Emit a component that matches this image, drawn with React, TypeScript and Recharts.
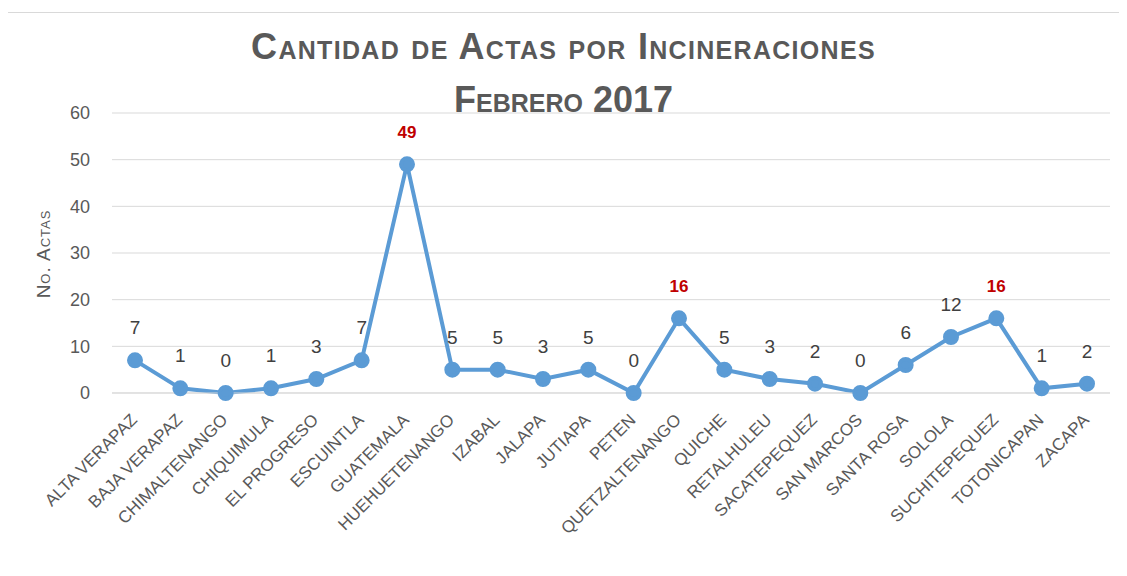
import { LineChart, Line, XAxis, YAxis, CartesianGrid, LabelList } from "recharts"

const departments = [
  "ALTA VERAPAZ", "BAJA VERAPAZ", "CHIMALTENANGO", "CHIQUIMULA", "EL PROGRESO",
  "ESCUINTLA", "GUATEMALA", "HUEHUETENANGO", "IZABAL", "JALAPA", "JUTIAPA",
  "PETEN", "QUETZALTENANGO", "QUICHE", "RETALHULEU", "SACATEPEQUEZ",
  "SAN MARCOS", "SANTA ROSA", "SOLOLA", "SUCHITEPEQUEZ", "TOTONICAPAN", "ZACAPA",
]
const actas = [7, 1, 0, 1, 3, 7, 49, 5, 5, 3, 5, 0, 16, 5, 3, 2, 0, 6, 12, 16, 1, 2]
const highlighted = ["GUATEMALA", "QUETZALTENANGO", "SUCHITEPEQUEZ"]
const yTicks = [0, 10, 20, 30, 40, 50, 60]

const data = departments.map((name, i) => ({ name, actas: actas[i] }))

const gray = "#595959"
const blue = "#5B9BD5"
const font = "'Liberation Sans', Arial, sans-serif"

const DeptTick = ({ x, y, payload }: any) => (
  <g transform={`translate(${x + 3},${y + 26})`}>
    <text transform="rotate(-45)" textAnchor="end" fill={gray} fontSize={17} fontFamily={font}>
      {payload.value}
    </text>
  </g>
)

const ValueLabel = ({ x, y, value, index }: any) => {
  const hot = highlighted.includes(departments[index])
  return (
    <text
      x={x}
      y={y - 26}
      textAnchor="middle"
      fill={hot ? "#C00000" : "#404040"}
      fontSize={hot ? 17 : 19}
      fontWeight={hot ? "bold" : "normal"}
      fontFamily={font}
    >
      {value}
    </text>
  )
}

export default function App() {
  return (
    <div style={{ position: "relative", width: 1127, height: 576, margin: -8, overflow: "hidden", background: "#fff" }}>
      {/* chart frame, cut off at right and bottom like the screenshot */}
      <div style={{ position: "absolute", left: 6, top: 12, width: 1200, height: 700, border: "1px solid #d9d9d9" }} />

      <div
        style={{
          position: "absolute", left: 0, width: 1127, top: 20, textAlign: "center",
          fontFamily: font, fontWeight: "bold", fontVariant: "small-caps", color: gray,
          fontSize: 36, lineHeight: "53px",
        }}
      >
        <div style={{ letterSpacing: 1.3 }}>Cantidad de Actas por Incineraciones</div>
        <div>Febrero 2017</div>
      </div>

      <div
        style={{
          position: "absolute", left: 44, top: 254, transform: "translate(-50%,-50%) rotate(-90deg)",
          fontFamily: font, fontVariant: "small-caps", color: gray, fontSize: 19, letterSpacing: 1,
          whiteSpace: "nowrap",
        }}
      >
        No. Actas
      </div>

      <div style={{ position: "absolute", left: 0, top: 0 }}>
        <LineChart width={1127} height={576} data={data} margin={{ top: 113, right: 17, bottom: 33, left: 0 }}>
          <CartesianGrid vertical={false} stroke="#d9d9d9" />
          <XAxis
            dataKey="name"
            interval={0}
            padding={{ left: 23, right: 23 }}
            axisLine={{ stroke: "#d9d9d9" }}
            tickLine={false}
            tickSize={0}
            height={150}
            tick={<DeptTick />}
          />
          <YAxis
            domain={[0, 60]}
            ticks={yTicks}
            axisLine={false}
            tickLine={false}
            tickSize={0}
            tickMargin={22}
            width={112}
            tick={{ fill: gray, fontSize: 18, fontFamily: font }}
          />
          <Line
            dataKey="actas"
            stroke={blue}
            strokeWidth={4}
            dot={{ r: 6, fill: blue, stroke: blue }}
            isAnimationActive={false}
          >
            <LabelList dataKey="actas" content={<ValueLabel />} />
          </Line>
        </LineChart>
      </div>
    </div>
  )
}
